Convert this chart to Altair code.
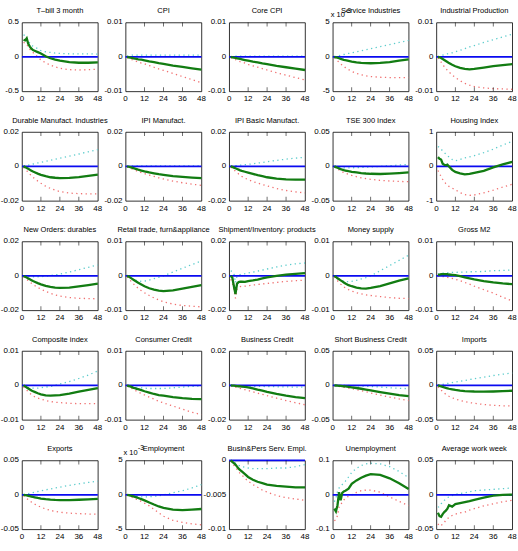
import altair as alt
import pandas as pd

# Impulse responses to a monetary shock: median response with upper/lower bands
MONTHS = [1, 2, 3, 4, 5, 6, 7, 8, 10, 12, 15, 18, 21, 24, 30, 36, 42, 48]
X_TICKS = [0, 12, 24, 36, 48]
INNER_TICKS = [12, 24, 36]

tbill_mid = [0.25, 0.24, 0.27, 0.19, 0.15, 0.12, 0.10, 0.09, 0.07, 0.05, 0.01, -0.02, -0.04, -0.055, -0.075, -0.085, -0.085, -0.08]
tbill_up = [0.32, 0.31, 0.28, 0.23, 0.20, 0.17, 0.155, 0.14, 0.12, 0.09, 0.075, 0.065, 0.055, 0.05, 0.045, 0.045, 0.045, 0.04]
tbill_lo = [0.21, 0.20, 0.19, 0.14, 0.11, 0.09, 0.065, 0.04, 0.0, -0.045, -0.085, -0.12, -0.145, -0.165, -0.185, -0.19, -0.185, -0.18]

cpi_mid = [0, -0.0001, -0.0002, -0.0003, -0.0004, -0.0005, -0.0006, -0.0007, -0.0008, -0.001, -0.0013, -0.0015, -0.0018, -0.002, -0.0025, -0.0029, -0.0033, -0.0037]
cpi_up = [0.0002, 0.0003, 0.0004, 0.0005, 0.0005, 0.0005, 0.0005, 0.0005, 0.0005, 0.0005, 0.0005, 0.0005, 0.0005, 0.0005, 0.0005, 0.0005, 0.0005, 0.0005]
cpi_lo = [-0.0002, -0.0004, -0.0006, -0.0008, -0.001, -0.0012, -0.0013, -0.0015, -0.0018, -0.002, -0.0025, -0.003, -0.0035, -0.0039, -0.0048, -0.0057, -0.0066, -0.0075]

core_mid = [0, -0.0001, -0.0002, -0.0003, -0.0004, -0.0005, -0.0006, -0.0007, -0.0009, -0.0011, -0.0014, -0.0016, -0.0019, -0.0021, -0.0026, -0.003, -0.0034, -0.0038]
core_up = [0.0001, 0.0001, 0.0002, 0.0002, 0.0002, 0.0002, 0.0002, 0.0002, 0.0002, 0.0002, 0.0002, 0.0002, 0.0002, 0.0002, 0.0002, 0.0002, 0.0002, 0.0002]
core_lo = [-0.0002, -0.0004, -0.0006, -0.0008, -0.001, -0.0012, -0.0014, -0.0015, -0.0018, -0.0022, -0.0026, -0.003, -0.0034, -0.0038, -0.0046, -0.0053, -0.006, -0.0067]

serv_mid = [0, -0.05, -0.1, -0.2, -0.28, -0.35, -0.42, -0.48, -0.58, -0.68, -0.8, -0.87, -0.91, -0.92, -0.88, -0.75, -0.55, -0.35]
serv_up = [0.05, 0.1, 0.15, 0.2, 0.25, 0.3, 0.35, 0.4, 0.5, 0.6, 0.75, 0.9, 1.05, 1.2, 1.5, 1.8, 2.1, 2.4]
serv_lo = [-0.1, -0.3, -0.55, -0.8, -1.0, -1.2, -1.4, -1.55, -1.85, -2.1, -2.4, -2.6, -2.75, -2.85, -2.95, -3.0, -3.0, -3.0]

ip_mid = [0, -0.0001, -0.0003, -0.0006, -0.0009, -0.0012, -0.0015, -0.0018, -0.0023, -0.0027, -0.0032, -0.0035, -0.0036, -0.0035, -0.0031, -0.0027, -0.0024, -0.0021]
ip_up = [0.0001, 0.0002, 0.0004, 0.0005, 0.0007, 0.0008, 0.0009, 0.001, 0.0012, 0.0015, 0.0019, 0.0024, 0.0029, 0.0033, 0.0042, 0.005, 0.0058, 0.0066]
ip_lo = [-0.0003, -0.0008, -0.0015, -0.0022, -0.0028, -0.0034, -0.0039, -0.0044, -0.0052, -0.006, -0.0069, -0.0077, -0.0082, -0.0086, -0.009, -0.0092, -0.0093, -0.0094]

dur_mid = [0, -0.0004, -0.0009, -0.0014, -0.002, -0.0025, -0.003, -0.0034, -0.0042, -0.0049, -0.0057, -0.0063, -0.0066, -0.0068, -0.0067, -0.0062, -0.0055, -0.0048]
dur_up = [0.0002, 0.0004, 0.0006, 0.0008, 0.001, 0.0012, 0.0014, 0.0016, 0.002, 0.0024, 0.003, 0.0036, 0.0042, 0.0048, 0.006, 0.0072, 0.0085, 0.0097]
dur_lo = [-0.0005, -0.0015, -0.0025, -0.0035, -0.0045, -0.0055, -0.0063, -0.0071, -0.0085, -0.0098, -0.0115, -0.0128, -0.0138, -0.0146, -0.0155, -0.0158, -0.016, -0.016]

ipim_mid = [0, -0.0002, -0.0004, -0.0007, -0.001, -0.0013, -0.0016, -0.0019, -0.0024, -0.0029, -0.0035, -0.004, -0.0045, -0.0049, -0.0056, -0.0061, -0.0065, -0.0068]
ipim_up = [0.0002, 0.0003, 0.0003, 0.0003, 0.0003, 0.0003, 0.0003, 0.0003, 0.0003, 0.0003, 0.0003, 0.0003, 0.0003, 0.0003, 0.0003, 0.0003, 0.0003, 0.0003]
ipim_lo = [-0.0003, -0.0006, -0.001, -0.0014, -0.0018, -0.0022, -0.0026, -0.003, -0.0036, -0.0042, -0.005, -0.0058, -0.0066, -0.0073, -0.0085, -0.0095, -0.0103, -0.011]

ipib_mid = [0, -0.0003, -0.0007, -0.0011, -0.0015, -0.0019, -0.0023, -0.0026, -0.0031, -0.0036, -0.0043, -0.0051, -0.0057, -0.0063, -0.0071, -0.0075, -0.0077, -0.0077]
ipib_up = [0.0001, 0.0002, 0.0003, 0.0004, 0.0005, 0.0006, 0.0007, 0.0008, 0.001, 0.0012, 0.0015, 0.0019, 0.0023, 0.0027, 0.0035, 0.0042, 0.0048, 0.0053]
ipib_lo = [-0.0005, -0.0012, -0.002, -0.0028, -0.0036, -0.0044, -0.0051, -0.0058, -0.0068, -0.0077, -0.0088, -0.0097, -0.0105, -0.0113, -0.0128, -0.014, -0.0148, -0.0154]

tse_mid = [0, -0.001, -0.002, -0.003, -0.004, -0.0048, -0.0055, -0.006, -0.007, -0.0078, -0.0088, -0.0097, -0.0103, -0.0107, -0.011, -0.0105, -0.0097, -0.0088]
tse_up = [0.0, -0.0005, -0.001, -0.0013, -0.0016, -0.0018, -0.002, -0.002, -0.002, -0.002, -0.0018, -0.0015, -0.0012, -0.0008, 0.0, 0.001, 0.002, 0.003]
tse_lo = [-0.001, -0.002, -0.0035, -0.005, -0.0065, -0.0078, -0.009, -0.01, -0.0115, -0.013, -0.015, -0.0165, -0.0178, -0.0188, -0.0203, -0.0212, -0.0218, -0.0222]

house_mid = [0.27, 0.22, 0.20, 0.08, 0.05, 0.03, 0.05, 0.0, -0.1, -0.16, -0.2, -0.23, -0.22, -0.19, -0.13, -0.03, 0.06, 0.13]
house_up = [0.58, 0.55, 0.5, 0.45, 0.4, 0.36, 0.32, 0.27, 0.2, 0.16, 0.2, 0.25, 0.28, 0.31, 0.4, 0.5, 0.62, 0.73]
house_lo = [-0.12, -0.2, -0.3, -0.38, -0.44, -0.5, -0.54, -0.58, -0.63, -0.68, -0.76, -0.82, -0.84, -0.83, -0.77, -0.69, -0.6, -0.52]

nord_mid = [0, -0.0005, -0.001, -0.0015, -0.002, -0.0025, -0.003, -0.0034, -0.0042, -0.0049, -0.0058, -0.0064, -0.0068, -0.007, -0.0068, -0.0061, -0.0053, -0.0045]
nord_up = [0.0, -0.0002, -0.0003, -0.0004, -0.0005, -0.0005, -0.0005, -0.0005, -0.0005, -0.0004, -0.0002, 0.0002, 0.0006, 0.001, 0.0022, 0.0036, 0.005, 0.0064]
nord_lo = [-0.0005, -0.0012, -0.002, -0.0028, -0.0036, -0.0043, -0.005, -0.0056, -0.0067, -0.0077, -0.009, -0.0101, -0.011, -0.0117, -0.0126, -0.013, -0.0132, -0.0133]

retail_mid = [0, -0.0002, -0.0005, -0.0008, -0.0011, -0.0014, -0.0017, -0.002, -0.0025, -0.003, -0.0036, -0.004, -0.0043, -0.0044, -0.0042, -0.0037, -0.0032, -0.0027]
retail_up = [0.0, -0.0003, -0.0006, -0.0008, -0.001, -0.0012, -0.0013, -0.0014, -0.0016, -0.0015, -0.0012, -0.0008, -0.0004, 0.0, 0.0011, 0.0022, 0.0033, 0.0043]
retail_lo = [-0.0003, -0.0008, -0.0013, -0.0018, -0.0023, -0.0028, -0.0032, -0.0036, -0.0043, -0.0049, -0.0057, -0.0064, -0.007, -0.0075, -0.0082, -0.0086, -0.0088, -0.009]

ship_mid = [0, -0.001, -0.006, -0.0105, -0.0045, -0.0036, -0.0034, -0.0033, -0.0035, -0.003, -0.0026, -0.0021, -0.0015, -0.0009, 0.0, 0.0007, 0.0012, 0.0016]
ship_up = [0.003, 0.0025, 0.0015, -0.004, 0.0, 0.0005, 0.0008, 0.001, 0.0013, 0.0017, 0.0022, 0.0028, 0.0034, 0.004, 0.0052, 0.0062, 0.007, 0.0075]
ship_lo = [-0.002, -0.004, -0.008, -0.013, -0.0075, -0.0065, -0.0062, -0.006, -0.006, -0.0057, -0.0053, -0.005, -0.0047, -0.0044, -0.0038, -0.0032, -0.0028, -0.0025]

money_mid = [0, -0.0003, -0.0007, -0.001, -0.0013, -0.0016, -0.0019, -0.0022, -0.0027, -0.003, -0.0034, -0.0036, -0.0037, -0.0035, -0.003, -0.0022, -0.0014, -0.0007]
money_up = [0.0, -0.0004, -0.0008, -0.001, -0.0012, -0.0014, -0.0015, -0.0016, -0.0017, -0.0016, -0.0013, -0.0009, -0.0005, 0.0, 0.0015, 0.003, 0.0045, 0.006]
money_lo = [-0.0003, -0.0009, -0.0014, -0.0019, -0.0024, -0.0028, -0.0032, -0.0035, -0.004, -0.0044, -0.0049, -0.0052, -0.0055, -0.0057, -0.006, -0.0063, -0.0065, -0.0066]

m2_mid = [0.0003, 0.0004, 0.0005, 0.0005, 0.0005, 0.0005, 0.0005, 0.0004, 0.0003, 0.0002, -0.0001, -0.0004, -0.0007, -0.001, -0.0015, -0.0019, -0.0022, -0.0024]
m2_up = [0.0005, 0.0006, 0.0007, 0.0008, 0.0008, 0.0009, 0.0009, 0.001, 0.001, 0.001, 0.0011, 0.0011, 0.0012, 0.0012, 0.0013, 0.0015, 0.0016, 0.0017]
m2_lo = [0.0, -0.0001, -0.0001, -0.0002, -0.0002, -0.0003, -0.0004, -0.0005, -0.0007, -0.001, -0.0014, -0.0019, -0.0024, -0.003, -0.004, -0.005, -0.0062, -0.0073]

comp_mid = [0, -0.0003, -0.0006, -0.0009, -0.0012, -0.0015, -0.0017, -0.0019, -0.0023, -0.0026, -0.0029, -0.003, -0.0029, -0.0028, -0.0024, -0.0018, -0.0013, -0.0008]
comp_up = [0.0, -0.0002, -0.0004, -0.0006, -0.0007, -0.0008, -0.0008, -0.0008, -0.0008, -0.0007, -0.0005, -0.0003, 0.0, 0.0004, 0.0011, 0.002, 0.003, 0.0042]
comp_lo = [-0.0004, -0.0009, -0.0014, -0.0019, -0.0023, -0.0027, -0.003, -0.0033, -0.0037, -0.004, -0.0044, -0.0047, -0.0049, -0.005, -0.0052, -0.0053, -0.0053, -0.0053]

ccred_mid = [0, -0.0002, -0.0003, -0.0005, -0.0007, -0.0008, -0.001, -0.0011, -0.0014, -0.0017, -0.0021, -0.0025, -0.0028, -0.003, -0.0034, -0.0037, -0.0039, -0.004]
ccred_up = [0.0, -0.0001, -0.0002, -0.0003, -0.0004, -0.0005, -0.0006, -0.0006, -0.0007, -0.0008, -0.0009, -0.0009, -0.0009, -0.0009, -0.0007, -0.0005, -0.0003, -0.0002]
ccred_lo = [-0.0002, -0.0004, -0.0007, -0.0009, -0.0012, -0.0014, -0.0017, -0.0019, -0.0024, -0.0028, -0.0034, -0.004, -0.0046, -0.0051, -0.006, -0.0069, -0.0078, -0.0085]

bcred_mid = [0, -0.0001, -0.0002, -0.0003, -0.0004, -0.0005, -0.0006, -0.0007, -0.0009, -0.0012, -0.0018, -0.0025, -0.0031, -0.0038, -0.005, -0.006, -0.0068, -0.0074]
bcred_up = [0.0, -0.0001, -0.0001, -0.0002, -0.0002, -0.0003, -0.0003, -0.0003, -0.0004, -0.0004, -0.0005, -0.0006, -0.0006, -0.0007, -0.0008, -0.0009, -0.001, -0.001]
bcred_lo = [-0.0002, -0.0004, -0.0007, -0.001, -0.0013, -0.0016, -0.0018, -0.0021, -0.0025, -0.003, -0.0037, -0.0045, -0.0052, -0.006, -0.0074, -0.0088, -0.0101, -0.0113]

sbc_mid = [0, -0.0002, -0.0004, -0.0006, -0.0008, -0.001, -0.0013, -0.0016, -0.0022, -0.0028, -0.0038, -0.0049, -0.006, -0.0072, -0.0097, -0.012, -0.0141, -0.0155]
sbc_up = [0.0, 0.0, 0.0, 0.0, 0.0, 0.0, 0.0, -0.0001, -0.0002, -0.0003, -0.0005, -0.0008, -0.0012, -0.0016, -0.0025, -0.0034, -0.0042, -0.0048]
sbc_lo = [-0.0003, -0.0007, -0.0011, -0.0015, -0.0019, -0.0023, -0.0027, -0.0031, -0.0039, -0.0048, -0.0062, -0.0077, -0.0093, -0.011, -0.014, -0.017, -0.0197, -0.022]

imp_mid = [0, -0.0008, -0.0015, -0.0022, -0.003, -0.0037, -0.0043, -0.0049, -0.0058, -0.0066, -0.0075, -0.0082, -0.0086, -0.0089, -0.0091, -0.0089, -0.0084, -0.0078]
imp_up = [0.0004, 0.0008, 0.0012, 0.0016, 0.002, 0.0024, 0.0028, 0.0032, 0.004, 0.0048, 0.006, 0.0072, 0.0084, 0.0096, 0.012, 0.0143, 0.0162, 0.018]
imp_lo = [-0.002, -0.0045, -0.0068, -0.009, -0.011, -0.013, -0.0145, -0.0158, -0.018, -0.0198, -0.022, -0.0237, -0.025, -0.026, -0.0278, -0.029, -0.0296, -0.03]

exp_mid = [0, -0.0004, -0.0008, -0.0013, -0.0018, -0.0024, -0.003, -0.0035, -0.0045, -0.0053, -0.0063, -0.007, -0.0074, -0.0076, -0.0075, -0.0071, -0.0065, -0.0059]
exp_up = [0.0004, 0.0009, 0.0014, 0.0019, 0.0024, 0.0029, 0.0034, 0.0039, 0.0049, 0.0058, 0.0072, 0.0086, 0.01, 0.0112, 0.0138, 0.016, 0.018, 0.0198]
exp_lo = [-0.001, -0.003, -0.005, -0.007, -0.0088, -0.0105, -0.012, -0.0134, -0.0158, -0.0178, -0.0205, -0.0225, -0.024, -0.0252, -0.0265, -0.0273, -0.0278, -0.028]

emp_mid = [0, -0.05, -0.1, -0.15, -0.22, -0.3, -0.37, -0.45, -0.62, -0.8, -1.1, -1.4, -1.68, -1.9, -2.15, -2.22, -2.15, -2.05]
emp_up = [0.0, -0.05, -0.1, -0.13, -0.16, -0.2, -0.22, -0.25, -0.28, -0.3, -0.28, -0.22, -0.12, 0.0, 0.3, 0.6, 1.0, 1.5]
emp_lo = [-0.05, -0.15, -0.25, -0.35, -0.45, -0.55, -0.65, -0.75, -0.95, -1.2, -1.6, -2.1, -2.6, -3.1, -3.7, -4.0, -4.2, -4.35]

bps_mid = [0, -0.0002, -0.0004, -0.0006, -0.0009, -0.0012, -0.0014, -0.0016, -0.002, -0.0024, -0.0028, -0.0031, -0.0033, -0.0035, -0.0037, -0.0038, -0.0039, -0.0039]
bps_up = [0, -0.0001, -0.0002, -0.0004, -0.0005, -0.0007, -0.0008, -0.0009, -0.001, -0.0011, -0.0012, -0.0012, -0.0012, -0.0012, -0.0011, -0.0011, -0.0009, -0.0006]
bps_lo = [-0.0001, -0.0004, -0.0007, -0.001, -0.0013, -0.0016, -0.0019, -0.0021, -0.0026, -0.003, -0.0035, -0.0039, -0.0043, -0.0046, -0.0051, -0.0054, -0.0056, -0.0058]

unemp_mid = [-0.04, -0.048, -0.03, 0.008, -0.016, 0.006, 0.01, 0.012, 0.018, 0.032, 0.042, 0.05, 0.056, 0.06, 0.058, 0.048, 0.034, 0.017]
unemp_up = [-0.02, -0.01, 0.01, 0.02, 0.025, 0.03, 0.035, 0.04, 0.052, 0.065, 0.077, 0.085, 0.09, 0.092, 0.09, 0.082, 0.068, 0.05]
unemp_lo = [-0.075, -0.072, -0.06, -0.035, -0.03, -0.02, -0.015, -0.01, -0.004, 0.0, 0.007, 0.012, 0.014, 0.014, 0.008, -0.006, -0.019, -0.031]

aww_mid = [-0.026, -0.031, -0.032, -0.028, -0.025, -0.023, -0.02, -0.015, -0.017, -0.0135, -0.012, -0.0105, -0.009, -0.0072, -0.004, -0.0012, 0.0, 0.0003]
aww_up = [-0.018, -0.017, -0.013, -0.011, -0.008, -0.006, -0.004, -0.003, -0.001, 0.001, 0.002, 0.003, 0.0045, 0.006, 0.007, 0.008, 0.009, 0.01]
aww_lo = [-0.042, -0.045, -0.045, -0.042, -0.04, -0.037, -0.035, -0.032, -0.03, -0.028, -0.026, -0.025, -0.022, -0.02, -0.016, -0.013, -0.01, -0.008]

# (title, y ticks, median, upper, lower, exponent label)
PANELS = [
    ("T\u2013bill 3 month", [-0.5, 0, 0.5], tbill_mid, tbill_up, tbill_lo, None),
    ("CPI", [-0.01, 0, 0.01], cpi_mid, cpi_up, cpi_lo, None),
    ("Core CPI", [-0.01, 0, 0.01], core_mid, core_up, core_lo, None),
    ("Service Industries", [-5, 0, 5], serv_mid, serv_up, serv_lo, "-3"),
    ("Industrial Production", [-0.01, 0, 0.01], ip_mid, ip_up, ip_lo, None),
    ("Durable Manufact. Industries", [-0.02, 0, 0.02], dur_mid, dur_up, dur_lo, None),
    ("IPI Manufact.", [-0.02, 0, 0.02], ipim_mid, ipim_up, ipim_lo, None),
    ("IPI Basic Manufact.", [-0.02, 0, 0.02], ipib_mid, ipib_up, ipib_lo, None),
    ("TSE 300 Index", [-0.05, 0, 0.05], tse_mid, tse_up, tse_lo, None),
    ("Housing Index", [-1, 0, 1], house_mid, house_up, house_lo, None),
    ("New Orders: durables", [-0.02, 0, 0.02], nord_mid, nord_up, nord_lo, None),
    ("Retail trade, furn&appliance", [-0.01, 0, 0.01], retail_mid, retail_up, retail_lo, None),
    ("Shipment/Inventory: products", [-0.02, 0, 0.02], ship_mid, ship_up, ship_lo, None),
    ("Money supply", [-0.01, 0, 0.01], money_mid, money_up, money_lo, None),
    ("Gross M2", [-0.01, 0, 0.01], m2_mid, m2_up, m2_lo, None),
    ("Composite index", [-0.01, 0, 0.01], comp_mid, comp_up, comp_lo, None),
    ("Consumer Credit", [-0.01, 0, 0.01], ccred_mid, ccred_up, ccred_lo, None),
    ("Business Credit", [-0.02, 0, 0.02], bcred_mid, bcred_up, bcred_lo, None),
    ("Short Business Credit", [-0.05, 0, 0.05], sbc_mid, sbc_up, sbc_lo, None),
    ("Imports", [-0.05, 0, 0.05], imp_mid, imp_up, imp_lo, None),
    ("Exports", [-0.05, 0, 0.05], exp_mid, exp_up, exp_lo, None),
    ("Employment", [-5, 0, 5], emp_mid, emp_up, emp_lo, "-3"),
    ("Busin&Pers Serv. Empl.", [-0.01, -0.005, 0], bps_mid, bps_up, bps_lo, None),
    ("Unemployment", [-0.1, 0, 0.1], unemp_mid, unemp_up, unemp_lo, None),
    ("Average work week", [-0.05, 0, 0.05], aww_mid, aww_up, aww_lo, None),
]

FONT = "Liberation Sans"
GREEN = "#127c12"
BLUE = "#0a0af0"
CYAN = "#5ccccc"
RED = "#f07070"
DOTS = [1.3, 3.4]


def panel(title, yticks, mid, up, lo, exponent):
    lo_lim, hi_lim = yticks[0], yticks[-1]
    xs = alt.Scale(domain=[0, 48], nice=False, zero=False)
    ys = alt.Scale(domain=[lo_lim, hi_lim], nice=False, zero=False)
    x_axis = alt.Axis(values=X_TICKS, title=None)
    y_axis = alt.Axis(values=yticks, title=None)
    df = pd.DataFrame({"month": MONTHS, "mid": mid, "up": up, "lo": lo})
    x = alt.X("month:Q", scale=xs, axis=x_axis)

    base = alt.Chart(df)
    upper = base.mark_line(color=CYAN, strokeDash=DOTS, strokeWidth=1.3).encode(
        x=x, y=alt.Y("up:Q", scale=ys, axis=y_axis))
    lower = base.mark_line(color=RED, strokeDash=DOTS, strokeWidth=1.3).encode(
        x=x, y=alt.Y("lo:Q", scale=ys, axis=y_axis))
    zero = alt.Chart(pd.DataFrame({"z": [0]})).mark_rule(
        color=BLUE, strokeWidth=1.8).encode(y=alt.Y("z:Q", scale=ys, axis=y_axis))
    median = base.mark_line(color=GREEN, strokeWidth=2.3).encode(
        x=x, y=alt.Y("mid:Q", scale=ys, axis=y_axis))

    # inward tick marks on the bottom and top edges of the box
    ticks_df = pd.DataFrame({"t": INNER_TICKS})
    tx = alt.X("t:Q", scale=xs, axis=x_axis)
    tick_bottom = alt.Chart(ticks_df).mark_tick(
        orient="vertical", size=4, thickness=0.8, color="black", yOffset=-2
    ).encode(x=tx, y=alt.datum(lo_lim))
    tick_top = alt.Chart(ticks_df).mark_tick(
        orient="vertical", size=4, thickness=0.8, color="black", yOffset=2
    ).encode(x=tx, y=alt.datum(hi_lim))

    # tick labels drawn as text next to the box
    xl = pd.DataFrame({"t": X_TICKS, "label": [str(v) for v in X_TICKS]})
    x_labels = alt.Chart(xl).mark_text(
        align="center", baseline="top", font=FONT, fontSize=8, dy=4, color="black"
    ).encode(x=tx, y=alt.datum(lo_lim), text="label:N")
    yl = pd.DataFrame({"v": yticks, "label": [str(v) for v in yticks]})
    y_labels = alt.Chart(yl).mark_text(
        align="right", baseline="middle", font=FONT, fontSize=8, dx=-3, color="black"
    ).encode(x=alt.datum(0), y=alt.Y("v:Q", scale=ys, axis=y_axis), text="label:N")

    one = ticks_df.head(1)
    heading = alt.Chart(one).mark_text(
        align="center", baseline="alphabetic", font=FONT, fontSize=7.5,
        dy=-9, color="black"
    ).encode(x=alt.datum(24), y=alt.datum(hi_lim), text=alt.value(title))

    layers = [upper, lower, zero, median, tick_bottom, tick_top, x_labels, y_labels, heading]
    if exponent:
        mult = alt.Chart(one).mark_text(
            align="left", baseline="alphabetic", font=FONT, fontSize=7.5,
            dx=-2, dy=-5, color="black"
        ).encode(x=alt.datum(0), y=alt.datum(hi_lim), text=alt.value("x 10"))
        power = alt.Chart(one).mark_text(
            align="left", baseline="alphabetic", font=FONT, fontSize=6.5,
            dx=12.5, dy=-10, color="black"
        ).encode(x=alt.datum(0), y=alt.datum(hi_lim), text=alt.value(exponent))
        layers += [mult, power]

    return alt.layer(*layers).properties(width=76, height=69)


chart = alt.concat(
    *[panel(*p) for p in PANELS],
    columns=5,
    spacing=alt.RowColnumber(row=40.7, column=27.8),
    bounds="flush",
).properties(
    background="white",
    padding={"left": 0, "top": 6, "right": 0, "bottom": 0},
).configure_view(
    stroke="black", strokeWidth=0.8
).configure_axis(
    labels=False, ticks=False, domain=False, grid=False,
)

chart.save("out.html", embed_options={"renderer": "svg", "actions": False})
